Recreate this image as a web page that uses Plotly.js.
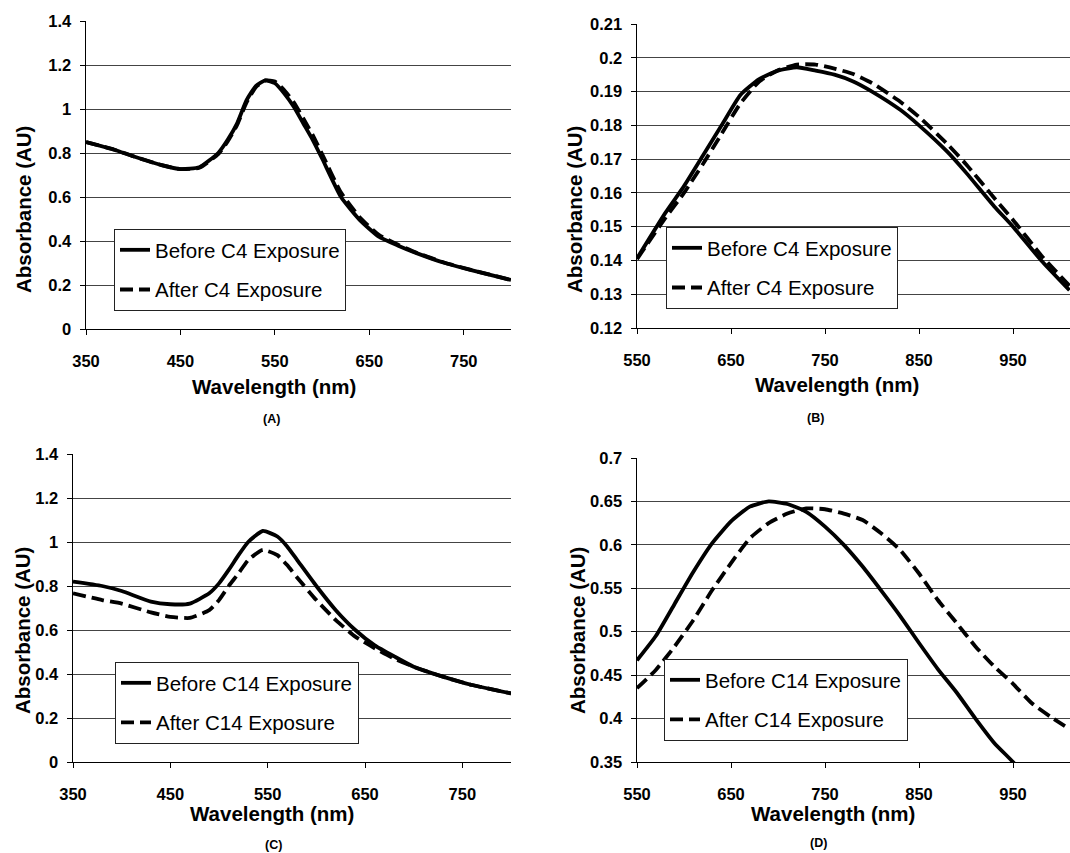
<!DOCTYPE html>
<html><head><meta charset="utf-8">
<script src="https://cdn.plot.ly/plotly-3.0.1.min.js"></script>
<style>html,body{margin:0;padding:0;background:#fff;} #chart{width:1070px;height:853px;}</style>
</head><body><div id="chart"></div>
<script>
// Panel A: C4, 350-800 nm
const wlA = [350,380,400,430,450,470,490,500,510,520,530,540,550,560,570,580,590,600,620,640,660,680,700,730,760,800];
const beforeA = [0.85,0.815,0.785,0.745,0.727,0.735,0.80,0.86,0.935,1.04,1.105,1.13,1.117,1.07,1.01,0.935,0.86,0.775,0.60,0.495,0.42,0.38,0.345,0.30,0.265,0.223];
const afterA  = [0.85,0.815,0.785,0.745,0.727,0.733,0.795,0.852,0.928,1.03,1.10,1.13,1.125,1.085,1.03,0.958,0.882,0.795,0.62,0.507,0.428,0.384,0.347,0.301,0.266,0.223];

// Panel B: C4, 550-1010 nm
const wlB = [550,580,600,620,640,660,680,700,720,740,760,780,800,830,850,880,900,930,950,980,1010];
const beforeB = [0.1406,0.154,0.162,0.171,0.18,0.189,0.1937,0.1962,0.1972,0.1962,0.195,0.193,0.190,0.1846,0.180,0.1722,0.166,0.156,0.150,0.140,0.1312];
const afterB  = [0.1404,0.1525,0.160,0.1685,0.1775,0.1865,0.193,0.1963,0.198,0.198,0.1968,0.1952,0.1925,0.187,0.1825,0.1745,0.1685,0.1585,0.152,0.1415,0.1325];

// Panel C: C14, 350-800 nm
const wlC = [350,380,400,430,450,470,490,500,510,520,530,545,560,570,580,600,620,640,660,680,700,730,760,800];
const beforeC = [0.82,0.80,0.777,0.729,0.717,0.72,0.767,0.812,0.873,0.94,1.0,1.05,1.025,0.98,0.92,0.80,0.69,0.60,0.53,0.48,0.433,0.388,0.35,0.312];
const afterC  = [0.767,0.736,0.72,0.68,0.66,0.655,0.69,0.736,0.80,0.857,0.918,0.964,0.94,0.895,0.84,0.736,0.645,0.57,0.517,0.47,0.433,0.388,0.35,0.312];

// Panel D: C14, 550-1010 nm
const wlD = [550,570,590,610,630,650,670,690,710,730,750,770,790,810,830,850,870,890,910,930,950,970,990,1010];
const beforeD = [0.467,0.495,0.532,0.569,0.602,0.627,0.644,0.650,0.647,0.638,0.621,0.600,0.575,0.547,0.518,0.487,0.457,0.430,0.400,0.372,0.350,0.325,0.30,0.275];
const afterD  = [0.435,0.456,0.483,0.5135,0.548,0.579,0.6075,0.625,0.636,0.642,0.641,0.636,0.6286,0.613,0.594,0.567,0.5365,0.51,0.483,0.46,0.44,0.4176,0.402,0.388];

const legendNames = [
  ['Before C4 Exposure','After C4 Exposure'],
  ['Before C4 Exposure','After C4 Exposure'],
  ['Before C14 Exposure','After C14 Exposure'],
  ['Before C14 Exposure','After C14 Exposure']
];

const W = 1070, H = 853;
const px = v => v / W;
const py = v => 1 - v / H;

const FONT = 'Liberation Sans, Arial, sans-serif';
const solid = {color:'#000', width:3.8, shape:'spline', smoothing:0.5};
const dashed = {color:'#000', width:3.8, dash:'13px,6px', shape:'spline', smoothing:0.5};

const sets = [
  [wlA, beforeA, afterA, 'x', 'y', 'legend'],
  [wlB, beforeB, afterB, 'x2', 'y2', 'legend2'],
  [wlC, beforeC, afterC, 'x3', 'y3', 'legend3'],
  [wlD, beforeD, afterD, 'x4', 'y4', 'legend4']
];
const traces = [];
sets.forEach((s, i) => {
  traces.push({x:s[0], y:s[1], type:'scatter', mode:'lines', line:solid, name:legendNames[i][0], xaxis:s[3], yaxis:s[4], legend:s[5], legendgroup:'b'+i});
  traces.push({x:s[0], y:s[2], type:'scatter', mode:'lines', line:dashed, name:legendNames[i][1], xaxis:s[3], yaxis:s[4], legend:s[5], legendgroup:'a'+i});
});

const tickFont = {family:FONT, size:16.5, color:'#000', weight:'bold'};
function xax(domain, range, tick0) {
  return {domain:domain, range:range, tick0:tick0, dtick:100, tickmode:'linear',
    ticks:'outside', ticklen:5, tickcolor:'#000', tickwidth:1,
    showline:true, linecolor:'#000', linewidth:1, showgrid:false, zeroline:false,
    tickfont:tickFont, ticklabelstandoff:12, fixedrange:true};
}
function yax(domain, range, dtick, anchor) {
  return {domain:domain, range:range, tick0:range[0], dtick:dtick, tickmode:'linear',
    ticks:'outside', ticklen:5, tickcolor:'#000', tickwidth:1,
    showline:true, linecolor:'#000', linewidth:1.5, showgrid:true, gridcolor:'#444', gridwidth:1,
    zeroline:false, tickfont:tickFont, ticklabelstandoff:5, anchor:anchor, fixedrange:true};
}
function leg(x, y) {
  return {x:px(x), y:py(y), xanchor:'left', yanchor:'top', bgcolor:'#fff', bordercolor:'#222', borderwidth:1,
    font:{family:FONT, size:20.5, color:'#000'}, tracegroupgap:10, traceorder:'grouped'};
}

const titleFont = {family:FONT, size:20.5, color:'#000', weight:'bold'};
const labFont = {family:FONT, size:12.5, color:'#000', weight:'bold'};
function ann(text, x, y, font, angle) {
  return {text:text, x:px(x), y:py(y), xref:'paper', yref:'paper', showarrow:false, font:font, textangle:angle||0, xanchor:'center', yanchor:'middle'};
}

const layout = {
  width:W, height:H, margin:{l:0, r:0, t:0, b:0},
  paper_bgcolor:'#fff', plot_bgcolor:'#fff', showlegend:true,
  xaxis: xax([px(86), px(511)], [350, 800], 350),
  yaxis: yax([py(329), py(21)], [0, 1.4], 0.2, 'x'),
  xaxis2: xax([px(637), 1], [550, 1010.6], 550),
  yaxis2: yax([py(328), py(24)], [0.12, 0.21], 0.01, 'x2'),
  xaxis3: xax([px(73), px(511)], [350, 800], 350),
  yaxis3: yax([py(762), py(454)], [0, 1.4], 0.2, 'x3'),
  xaxis4: xax([px(637), 1], [550, 1010.6], 550),
  yaxis4: yax([py(762), py(458)], [0.35, 0.7], 0.05, 'x4'),
  legend: leg(114, 229),
  legend2: leg(666, 227),
  legend3: leg(115, 662),
  legend4: leg(664, 659),
  annotations: [
    ann('Absorbance (AU)', 24, 210, titleFont, -90),
    ann('Wavelength (nm)', 274, 387, titleFont),
    ann('(A)', 271, 419, labFont),
    ann('Absorbance (AU)', 575, 210, titleFont, -90),
    ann('Wavelength (nm)', 837, 385, titleFont),
    ann('(B)', 815, 418, labFont),
    ann('Absorbance (AU)', 22, 631, titleFont, -90),
    ann('Wavelength (nm)', 272, 813, titleFont),
    ann('(C)', 273, 845, labFont),
    ann('Absorbance (AU)', 577, 631, titleFont, -90),
    ann('Wavelength (nm)', 833, 813, titleFont),
    ann('(D)', 818, 843, labFont)
  ]
};
layout.xaxis.anchor = 'y';
layout.xaxis2.anchor = 'y2';
layout.xaxis3.anchor = 'y3';
layout.xaxis4.anchor = 'y4';

Plotly.newPlot('chart', traces, layout, {displayModeBar:false, staticPlot:true});
</script>
</body></html>
